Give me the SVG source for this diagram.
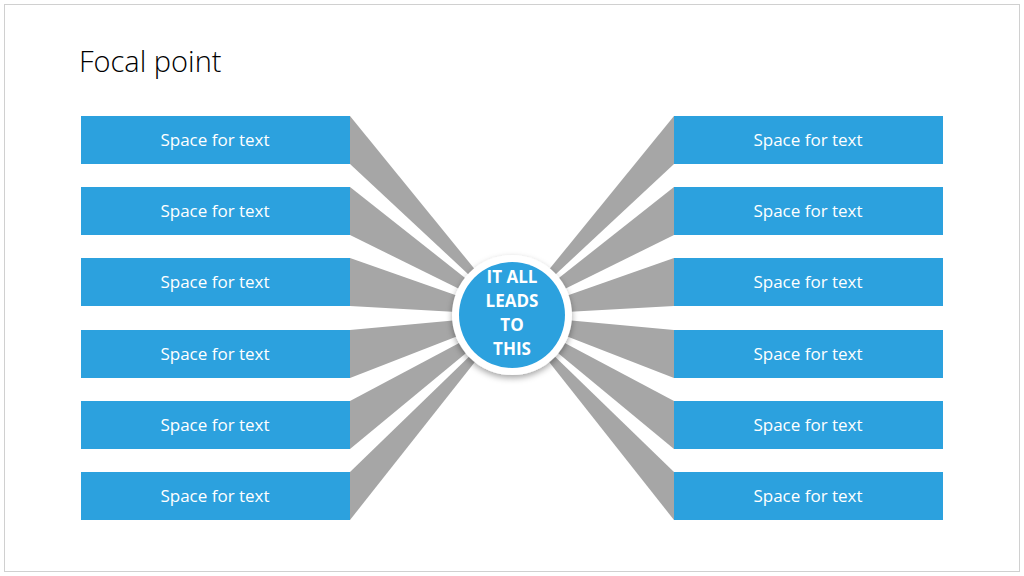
<svg xmlns="http://www.w3.org/2000/svg" width="1024" height="576" viewBox="0 0 1024 576">
<defs>
<style>
.box{fill:#2ca1de}
.w{fill:#a6a6a6}
.t{font-family:"Open Sans","Liberation Sans",sans-serif;font-size:17px;fill:#fff;text-anchor:middle}
.c{font-family:"Open Sans","Liberation Sans",sans-serif;font-size:17px;font-weight:bold;fill:#fff;text-anchor:middle}
</style>
<filter id="sh" x="-30%" y="-30%" width="160%" height="160%"><feDropShadow dx="0" dy="3" stdDeviation="3" flood-color="#000" flood-opacity="0.35"/></filter>
</defs>
<rect x="0" y="0" width="1024" height="576" fill="#fff"/>
<rect x="4.5" y="4.5" width="1015" height="567" fill="none" stroke="#d0d0d0"/>
<text x="79" y="72" font-family="'Open Sans','Liberation Sans',sans-serif" font-size="29" font-weight="300" fill="#000">Focal point</text>
<g id="connectors">
<polygon class="w" points="350,116 350,164 512,315"/>
<polygon class="w" points="350,187 350,235 512,315"/>
<polygon class="w" points="350,258 350,306 512,315"/>
<polygon class="w" points="350,330 350,378 512,315"/>
<polygon class="w" points="350,401 350,449 512,315"/>
<polygon class="w" points="350,472 350,520 512,315"/>
<polygon class="w" points="674,116 674,164 512,315"/>
<polygon class="w" points="674,187 674,235 512,315"/>
<polygon class="w" points="674,258 674,306 512,315"/>
<polygon class="w" points="674,330 674,378 512,315"/>
<polygon class="w" points="674,401 674,449 512,315"/>
<polygon class="w" points="674,472 674,520 512,315"/>
</g>
<g id="L1"><rect class="box" x="81" y="116" width="269" height="48"/><text class="t" x="215" y="146">Space for text</text></g>
<g id="L2"><rect class="box" x="81" y="187" width="269" height="48"/><text class="t" x="215" y="217">Space for text</text></g>
<g id="L3"><rect class="box" x="81" y="258" width="269" height="48"/><text class="t" x="215" y="288">Space for text</text></g>
<g id="L4"><rect class="box" x="81" y="330" width="269" height="48"/><text class="t" x="215" y="360">Space for text</text></g>
<g id="L5"><rect class="box" x="81" y="401" width="269" height="48"/><text class="t" x="215" y="431">Space for text</text></g>
<g id="L6"><rect class="box" x="81" y="472" width="269" height="48"/><text class="t" x="215" y="502">Space for text</text></g>
<g id="R1"><rect class="box" x="674" y="116" width="269" height="48"/><text class="t" x="808" y="146">Space for text</text></g>
<g id="R2"><rect class="box" x="674" y="187" width="269" height="48"/><text class="t" x="808" y="217">Space for text</text></g>
<g id="R3"><rect class="box" x="674" y="258" width="269" height="48"/><text class="t" x="808" y="288">Space for text</text></g>
<g id="R4"><rect class="box" x="674" y="330" width="269" height="48"/><text class="t" x="808" y="360">Space for text</text></g>
<g id="R5"><rect class="box" x="674" y="401" width="269" height="48"/><text class="t" x="808" y="431">Space for text</text></g>
<g id="R6"><rect class="box" x="674" y="472" width="269" height="48"/><text class="t" x="808" y="502">Space for text</text></g>
<g id="center">
<circle cx="512" cy="315" r="60" fill="#fff" filter="url(#sh)"/>
<circle cx="512" cy="315" r="53" fill="#2ca1de"/>
<text class="c" x="512" y="283">IT ALL</text>
<text class="c" x="512" y="307">LEADS</text>
<text class="c" x="512" y="331">TO</text>
<text class="c" x="512" y="355">THIS</text>
</g>
</svg>
